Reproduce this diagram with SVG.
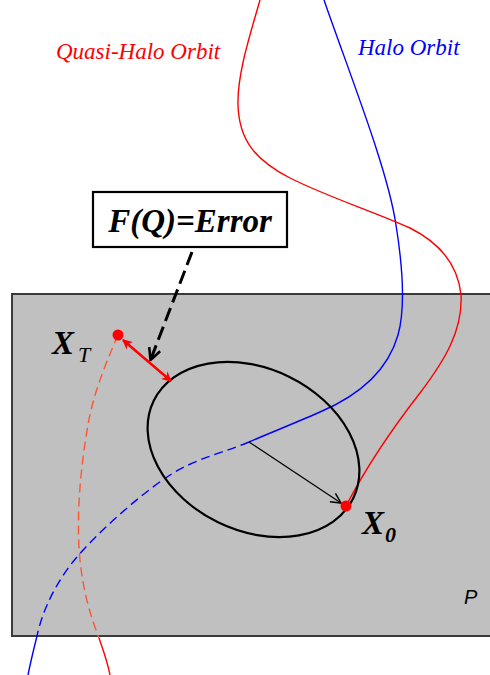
<svg xmlns="http://www.w3.org/2000/svg" width="490" height="675" viewBox="0 0 490 675">
<style>
.serif{font-family:"Liberation Serif","Times New Roman",serif}
.bi{font-weight:bold;font-style:italic}
.it{font-style:italic}
.orb{fill:none;stroke-width:1.4}
</style>
<defs>
<marker id="redHead" viewBox="0 0 10 10" refX="9" refY="5" markerWidth="4" markerHeight="4" orient="auto-start-reverse" markerUnits="strokeWidth">
<path d="M0,0 L10,5 L0,10 L3,5 Z" fill="#FF0000"/>
</marker>
<marker id="openHead" viewBox="0 0 12 12" refX="11" refY="6" markerWidth="12" markerHeight="12" orient="auto" markerUnits="userSpaceOnUse">
<path d="M1,1 L11,6 L1,11" fill="none" stroke="#000" stroke-width="1.5"/>
</marker>
<marker id="openHeadBig" viewBox="0 0 12 12" refX="11" refY="6" markerWidth="14" markerHeight="14" orient="auto" markerUnits="userSpaceOnUse">
<path d="M1,1 L11,6 L1,11" fill="none" stroke="#000" stroke-width="2.2"/>
</marker>
</defs>
<rect width="490" height="675" fill="#FFFFFF"/>
<g id="plane">
<rect x="12" y="294" width="490" height="342" fill="#C0C0C0" stroke="#3A3A3A" stroke-width="2"/>
<text x="464" y="604" font-family="Liberation Sans, Arial, sans-serif" font-style="italic" font-size="20" fill="#000">P</text>
</g>
<g id="orbits">
<path id="halo-top" class="orb" stroke="#0000FF" d="M324,0 C350,75 388,170 396,225 C404,275 405,310 398,335 C388,370 360,395 320,412 C295,423 270,433 249,442"/>
<path id="halo-dashed" class="orb" stroke="#0000FF" stroke-dasharray="9,5" d="M249,442 C221.7,453.7 195.7,457.8 167,477 C138.3,496.2 98.5,532 77,557 C55.5,582 42,612 37,636"/>
<path id="halo-bottom" class="orb" stroke="#0000FF" d="M37,636 C34,648 31,660 28,675"/>
<path id="quasi-top" class="orb" stroke="#FF0000" d="M260,0 C250,35 237,75 238,105 C239,140 255,160 290,178 C330,198 370,210 410,228 C440,243 458,265 461,295 C463,330 445,360 420,393 C395,425 370,460 346,506"/>
<path id="quasi-dashed" class="orb" stroke="#FF5533" stroke-dasharray="9,5" d="M118,335 C105,365 93,395 88,425 C80,470 76,520 80,560 C83,590 90,615 99,638"/>
<path id="quasi-bottom" class="orb" stroke="#FF0000" d="M99,638 C103,650 107,660 110,675"/>
</g>
<g id="torus">
<ellipse cx="253.5" cy="449.5" rx="111" ry="81" transform="rotate(26 253.5 449.5)" fill="none" stroke="#000" stroke-width="2.2"/>
</g>
<g id="connectors">
<line x1="249" y1="442" x2="341" y2="503" stroke="#000" stroke-width="1.2" marker-end="url(#openHead)"/>
<line x1="123" y1="340" x2="171" y2="381" stroke="#FF0000" stroke-width="2.5" marker-start="url(#redHead)" marker-end="url(#redHead)"/>
<line x1="192" y1="252" x2="150.5" y2="360" stroke="#000" stroke-width="3" stroke-dasharray="14,6" marker-end="url(#openHeadBig)"/>
</g>
<g id="xt">
<circle cx="118" cy="335" r="5.5" fill="#FF0000"/>
<text class="serif bi" x="52" y="354" font-size="33" fill="#000">X</text>
<text class="serif it" x="78" y="362" font-size="22" fill="#000">T</text>
</g>
<g id="x0">
<circle cx="346" cy="506" r="5.5" fill="#FF0000"/>
<text class="serif bi" x="362" y="534" font-size="33" fill="#000">X</text>
<text class="serif bi" x="385" y="542" font-size="22" fill="#000">0</text>
</g>
<g id="error-box">
<rect x="93" y="192" width="194" height="55" fill="#FFFFFF" stroke="#000" stroke-width="2.2"/>
<text class="serif bi" x="190" y="232" font-size="33" text-anchor="middle" fill="#000">F(Q)=Error</text>
</g>
<g id="labels">
<text class="serif it" x="56" y="59" font-size="23" fill="#FF0000">Quasi-Halo Orbit</text>
<text class="serif it" x="358" y="55" font-size="23" fill="#0000FF">Halo Orbit</text>
</g>
</svg>
